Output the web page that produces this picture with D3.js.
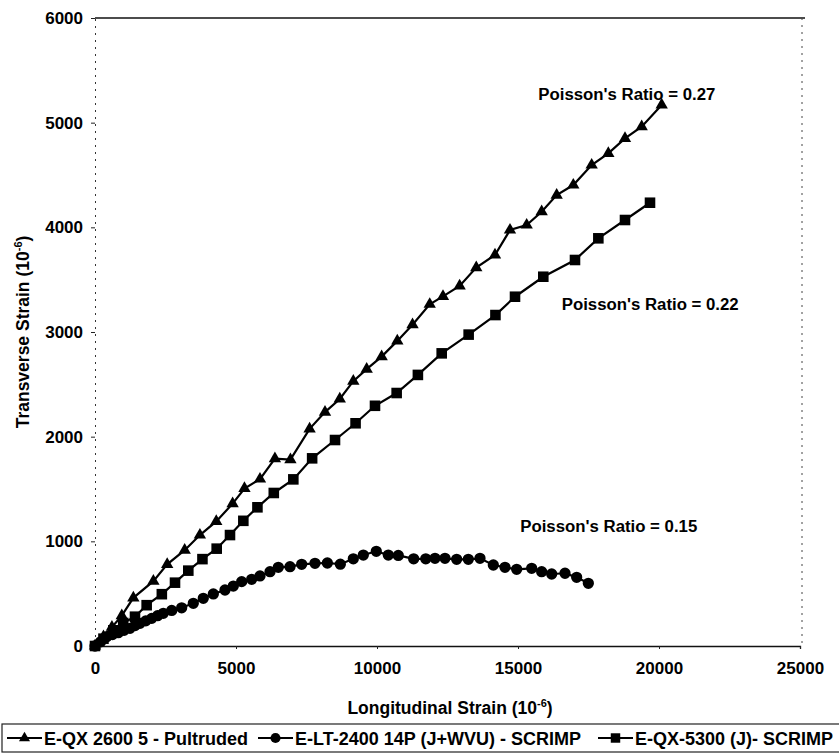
<!DOCTYPE html>
<html>
<head>
<meta charset="utf-8">
<script src="https://cdn.jsdelivr.net/npm/d3@7"></script>
<style>
  html, body { margin: 0; padding: 0; background: #fff; }
  svg { display: block; font-family: "Liberation Sans", Arial, sans-serif; }
</style>
</head>
<body>
<svg id="chart" width="839" height="753"></svg>
<script>
// Longitudinal vs transverse strain (microstrain) for three laminates
const seriesNames = [
  "E-QX 2600 5 - Pultruded",
  "E-LT-2400 14P (J+WVU) - SCRIMP",
  "E-QX-5300 (J)- SCRIMP"
];

const pultrudedX = [0, 300, 600, 950, 1360, 2070, 2560, 3180, 3720, 4300, 4880, 5300, 5850, 6380, 6930, 7610, 8156, 8680, 9160, 9634, 10165, 10720, 11260, 11870, 12340, 12930, 13520, 14184, 14716, 15307, 15839, 16371, 16961, 17612, 18203, 18794, 19386, 20095];
const pultrudedY = [0, 90, 180, 290, 460, 620, 780, 915, 1060, 1190, 1360, 1505, 1595, 1790, 1780, 2075, 2235, 2360, 2530, 2645, 2765, 2915, 3070, 3265, 3340, 3440, 3615, 3736, 3974, 4022, 4149, 4308, 4404, 4595, 4707, 4850, 4961, 5169];

const scrimpLtX = [0, 200, 414, 620, 826, 1030, 1241, 1420, 1596, 1800, 2011, 2220, 2422, 2720, 3073, 3486, 3840, 4196, 4610, 4905, 5201, 5556, 5851, 6206, 6501, 6915, 7329, 7801, 8240, 8700, 9160, 9515, 9975, 10401, 10755, 11300, 11730, 12057, 12411, 12825, 13238, 13652, 14125, 14539, 14953, 15485, 15839, 16194, 16667, 17080, 17494];
const scrimpLtY = [0, 40, 89, 110, 127, 150, 169, 195, 217, 240, 264, 290, 312, 340, 365, 408, 456, 497, 535, 573, 615, 637, 669, 710, 752, 758, 780, 790, 793, 782, 833, 869, 905, 869, 865, 833, 833, 838, 838, 828, 828, 838, 774, 752, 733, 742, 710, 688, 695, 656, 599];

const scrimpQxX = [0, 300, 650, 1000, 1418, 1832, 2370, 2837, 3309, 3810, 4315, 4787, 5260, 5760, 6340, 7033, 7700, 8511, 9240, 9929, 10697, 11450, 12294, 13250, 14200, 14894, 15897, 17021, 17849, 18794, 19681];
const scrimpQxY = [0, 70, 150, 220, 280, 390, 495, 605, 720, 830, 930, 1060, 1196, 1325, 1462, 1592, 1793, 1968, 2128, 2295, 2417, 2590, 2796, 2975, 3162, 3337, 3528, 3688, 3895, 4070, 4235];

const xTicks = [0, 5000, 10000, 15000, 20000, 25000];
const yTicks = [0, 1000, 2000, 3000, 4000, 5000, 6000];

const ratioLabels = ["Poisson's Ratio = 0.27", "Poisson's Ratio = 0.22", "Poisson's Ratio = 0.15"];
const ratioAnchorX = [15720, 16550, 15080];
const ratioAnchorY = [5215, 3210, 1085];

const series = [
  { name: seriesNames[0], xs: pultrudedX, ys: pultrudedY, symbol: d3.symbolTriangle, size: 66 },
  { name: seriesNames[1], xs: scrimpLtX, ys: scrimpLtY, symbol: d3.symbolCircle, size: 100 },
  { name: seriesNames[2], xs: scrimpQxX, ys: scrimpQxY, symbol: d3.symbolSquare, size: 112 }
];

const svg = d3.select("#chart");
const plotLeft = 95, plotRight = 800, plotTop = 18, plotBottom = 646;

const x = d3.scaleLinear().domain([0, 25000]).range([plotLeft, plotRight]);
const y = d3.scaleLinear().domain([0, 6000]).range([plotBottom, plotTop]);

// plot frame: solid top/bottom, dotted sides
svg.append("line").attr("x1", plotLeft).attr("x2", plotRight + 5).attr("y1", plotTop).attr("y2", plotTop)
  .attr("stroke", "#111").attr("stroke-width", 1.3);
svg.append("line").attr("x1", plotRight + 2).attr("x2", plotRight + 2).attr("y1", plotTop).attr("y2", plotBottom)
  .attr("stroke", "#444").attr("stroke-width", 1).attr("stroke-dasharray", "2,5");

// y axis
const yAxis = svg.append("g").attr("transform", `translate(${plotLeft},0)`)
  .call(d3.axisLeft(y).tickValues(yTicks).tickSize(4).tickPadding(8).tickFormat(d3.format("d")));
yAxis.select(".domain").attr("stroke", "#333").attr("stroke-dasharray", "2,5");
yAxis.selectAll(".tick line").attr("stroke", "#222");
yAxis.selectAll("text").attr("font-size", 17).attr("font-weight", "bold").attr("fill", "#000");

// x axis
const xAxis = svg.append("g").attr("transform", `translate(0,${plotBottom})`)
  .call(d3.axisBottom(x).tickValues(xTicks).tickSize(3).tickPadding(13).tickFormat(d3.format("d")));
xAxis.select(".domain").attr("stroke", "#111").attr("stroke-width", 1.3);
xAxis.selectAll(".tick line").attr("stroke", "#222");
xAxis.selectAll("text").attr("font-size", 17).attr("font-weight", "bold").attr("fill", "#000");

// axis titles with superscript exponent
const xTitle = svg.append("text").attr("x", 450).attr("y", 714)
  .attr("text-anchor", "middle").attr("font-size", 17.5).attr("font-weight", "bold");
xTitle.append("tspan").text("Longitudinal Strain (10");
xTitle.append("tspan").attr("dy", -7).attr("font-size", 11).text("-6");
xTitle.append("tspan").attr("dy", 7).text(")");

const yTitle = svg.append("text")
  .attr("transform", `translate(29,${(plotTop + plotBottom) / 2}) rotate(-90)`)
  .attr("text-anchor", "middle").attr("font-size", 17.5).attr("font-weight", "bold");
yTitle.append("tspan").text("Transverse Strain (10");
yTitle.append("tspan").attr("dy", -7).attr("font-size", 11).text("-6");
yTitle.append("tspan").attr("dy", 7).text(")");

// series lines and markers
const line = d3.line().x(d => x(d[0])).y(d => y(d[1]));
series.forEach(s => {
  const pts = s.xs.map((v, i) => [v, s.ys[i]]);
  const g = svg.append("g");
  g.append("path").datum(pts).attr("d", line)
    .attr("fill", "none").attr("stroke", "#000").attr("stroke-width", 2.2);
  g.selectAll("path.m").data(pts).join("path").attr("class", "m")
    .attr("transform", d => `translate(${x(d[0])},${y(d[1])})`)
    .attr("d", d3.symbol().type(s.symbol).size(s.size))
    .attr("fill", "#000");
});

// Poisson's ratio annotations
ratioLabels.forEach((t, i) => {
  svg.append("text").attr("x", x(ratioAnchorX[i])).attr("y", y(ratioAnchorY[i]))
    .attr("font-size", 16.8).attr("font-weight", "bold").text(t);
});

// legend
const legTop = 724;
svg.append("rect").attr("x", 2).attr("y", legTop).attr("width", 860).attr("height", 28)
  .attr("fill", "none").attr("stroke", "#222").attr("stroke-width", 1.2);
const legendX = [7, 258, 598];
series.forEach((s, i) => {
  const g = svg.append("g").attr("transform", `translate(${legendX[i]},${legTop + 14})`);
  g.append("line").attr("x1", 0).attr("x2", 35).attr("stroke", "#000").attr("stroke-width", 2.2);
  g.append("path").attr("transform", "translate(17.5,0)")
    .attr("d", d3.symbol().type(s.symbol).size(s.size * 0.8)).attr("fill", "#000");
  g.append("text").attr("x", 37).attr("y", 6.5).attr("font-size", 18).attr("font-weight", "bold")
    .text(s.name);
});
</script>
</body>
</html>
